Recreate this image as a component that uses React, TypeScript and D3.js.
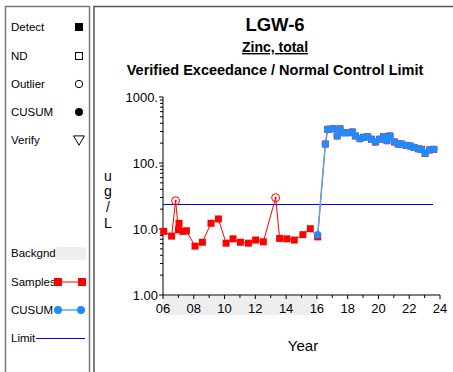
import { line, scaleLinear, scaleLog, symbol, symbolTriangle } from "d3"

// sample dates (decimal year) and concentrations, ug/L
const sampleYears = [
  6.05, 6.56, 6.82, 7.0, 7.04, 7.3, 7.52, 8.08, 8.56, 9.12, 9.6, 10.1, 10.55, 11.03, 11.55, 12.02, 12.52,
  13.32, 13.58, 14.05, 14.53, 15.09, 15.57, 16.05,
  16.55, 16.7, 17.04, 17.32, 17.5, 17.7, 18.0, 18.3, 18.5, 18.8, 19.03, 19.3, 19.55, 19.8, 20.07, 20.33,
  20.55, 20.75, 21.05, 21.28, 21.5, 21.8, 22.06, 22.32, 22.6, 22.8, 23.03, 23.33, 23.6,
]
const sampleValues = [
  9.2, 7.8, 26.8, 9.7, 12.2, 9.2, 9.4, 5.5, 6.3, 12.2, 14.2, 6.1, 7.1, 6.3, 6.1, 6.8, 6.4,
  29.8, 7.2, 7.1, 6.8, 8.2, 10.1, 7.6,
  194, 324, 330, 257, 330, 288, 288, 295, 257, 234, 245, 250, 229, 208, 229, 250,
  218, 257, 208, 194, 194, 185, 181, 172, 164, 161, 140, 158, 161,
]
const outlierYears = [6.82, 13.32]

const cusumYears = [
  16.05, 16.55, 16.7, 17.04, 17.32, 17.5, 17.7, 18.0, 18.3, 18.5, 18.8, 19.03, 19.3, 19.55, 19.8, 20.07, 20.33,
  20.55, 20.75, 21.05, 21.28, 21.5, 21.8, 22.06, 22.32, 22.6, 22.8, 23.03, 23.33, 23.6,
]
const cusumValues = [
  8.2, 194, 324, 330, 257, 330, 288, 288, 295, 257, 234, 245, 250, 229, 208, 229, 250,
  218, 257, 208, 194, 194, 185, 181, 172, 164, 161, 140, 158, 161,
]

const limitValue = 24
const backgroundRange = [6, 16]
const yTickValues = [1, 10, 100, 1000]
const yTickLabels = ["1.00", "10.0", "100.", "1000."]
const xTickValues = [6, 8, 10, 12, 14, 16, 18, 20, 22, 24]
const xTickLabels = ["06", "08", "10", "12", "14", "16", "18", "20", "22", "24"]

const RED = "#ff0000"
const BLUE = "#1e8cff"
const BLUE_LINE = "#5aa6ee"
const LIMIT = "#0000ff"
const FONT = "'Liberation Sans', Arial, sans-serif"

export default function App() {
  const x = scaleLinear().domain([6, 24]).range([163, 440])
  const y = scaleLog().domain([1, 1000]).range([295, 97])

  const samplePts = sampleYears.map((yr, i) => ({ yr, v: sampleValues[i] }))
  const cusumPts = cusumYears.map((yr, i) => ({ yr, v: cusumValues[i] }))
  const path = line<{ yr: number; v: number }>()
    .x((d) => x(d.yr))
    .y((d) => y(d.v))

  const minorY: number[] = []
  for (let p = 1; p < 1000; p *= 10) for (let k = 2; k <= 9; k++) minorY.push(p * k)
  const allYears = Array.from({ length: 19 }, (_, i) => 6 + i)

  const tri = symbol().type(symbolTriangle).size(50)()
  const limitY = Math.round(y(limitValue)) + 0.5

  const legendTop = [
    { label: "Detect", y: 27 },
    { label: "ND", y: 56 },
    { label: "Outlier", y: 84 },
    { label: "CUSUM", y: 112 },
    { label: "Verify", y: 140 },
  ]

  return (
    <svg width={453} height={372} style={{ position: "absolute", left: 0, top: 0, fontFamily: FONT }}>
      <rect width={453} height={372} fill="#fff" />
      {/* legend panel */}
      <rect x={5.5} y={6.5} width={84} height={380} fill="none" stroke="#7a7a7a" strokeWidth={1.5} />
      <rect x={94} y={6.5} width={370} height={380} fill="none" stroke="#555" strokeWidth={1.5} />

      {legendTop.map((d) => (
        <text key={d.label} x={11} y={d.y + 4} fontSize={11.5}>{d.label}</text>
      ))}
      <rect x={75} y={23} width={8} height={8} fill="#000" />
      <rect x={75.5} y={52.5} width={7} height={7} fill="none" stroke="#000" />
      <circle cx={79} cy={84} r={3.7} fill="none" stroke="#000" />
      <circle cx={79} cy={112} r={4} fill="#000" />
      <path d={tri} transform="translate(79,139) rotate(180)" fill="none" stroke="#000" />

      <text x={11} y={257} fontSize={11.5}>Backgnd</text>
      <rect x={56} y={247} width={30} height={13} fill="#eeeeee" />
      <text x={11} y={286} fontSize={11.5}>Samples</text>
      <line x1={58} x2={82} y1={282} y2={282} stroke={RED} />
      <rect x={54} y={278} width={8} height={8} fill={RED} />
      <rect x={78} y={278} width={8} height={8} fill={RED} />
      <text x={11} y={314} fontSize={11.5}>CUSUM</text>
      <line x1={58} x2={81} y1={310} y2={310} stroke={BLUE_LINE} strokeWidth={1.5} />
      <circle cx={58} cy={310} r={4} fill={BLUE} />
      <circle cx={81} cy={310} r={4} fill={BLUE} />
      <text x={11} y={342} fontSize={11.5}>Limit</text>
      <line x1={36} x2={85} y1={338.5} y2={338.5} stroke={LIMIT} />

      {/* titles */}
      <text x={275} y={31} textAnchor="middle" fontSize={18.5} fontWeight="bold">LGW-6</text>
      <text x={275} y={52} textAnchor="middle" fontSize={14} fontWeight="bold" textDecoration="underline">Zinc, total</text>
      <text x={275} y={75} textAnchor="middle" fontSize={14.5} fontWeight="bold">Verified Exceedance / Normal Control Limit</text>

      {/* background period band */}
      <rect x={x(backgroundRange[0])} y={296} width={x(backgroundRange[1]) - x(backgroundRange[0])} height={19} fill="#eeeeee" />

      {/* axes */}
      <line x1={x(6)} x2={x(6)} y1={y(1000)} y2={y(1)} stroke="#000" />
      <line x1={x(6)} x2={x(24)} y1={y(1)} y2={y(1)} stroke="#000" />
      {minorY.map((v) => (
        <line key={v} x1={x(6) - 3} x2={x(6)} y1={y(v)} y2={y(v)} stroke="#000" />
      ))}
      {yTickValues.map((v, i) => (
        <g key={v}>
          <line x1={x(6) - 4} x2={x(6)} y1={y(v)} y2={y(v)} stroke="#000" />
          <text x={x(6) - 5} y={y(v)} dy="0.35em" textAnchor="end" fontSize={13}>{yTickLabels[i]}</text>
        </g>
      ))}
      {allYears.map((yr) => (
        <line key={yr} x1={x(yr)} x2={x(yr)} y1={y(1)} y2={y(1) + (yr % 2 === 0 ? 4 : 3)} stroke="#000" />
      ))}
      {xTickValues.map((v, i) => (
        <text key={v} x={x(v)} y={313} textAnchor="middle" fontSize={13}>{xTickLabels[i]}</text>
      ))}

      <text x={303} y={351} textAnchor="middle" fontSize={15}>Year</text>
      {["u", "g", "/", "L"].map((c, i) => (
        <text key={i} x={108} y={[181, 196, 212, 228][i]} textAnchor="middle" fontSize={14}>{c}</text>
      ))}

      {/* limit */}
      <line x1={x(6)} x2={433} y1={limitY} y2={limitY} stroke={LIMIT} strokeWidth={1} />

      {/* samples */}
      <path d={path(samplePts) ?? ""} fill="none" stroke={RED} strokeWidth={1} />
      {samplePts.map((d, i) =>
        outlierYears.includes(d.yr) ? (
          <g key={i}>
            <circle cx={x(d.yr)} cy={y(d.v)} r={4} fill="none" stroke={RED} strokeWidth={1} />
            <circle cx={x(d.yr)} cy={y(d.v)} r={1} fill={RED} />
          </g>
        ) : (
          <rect key={i} x={x(d.yr) - 3.5} y={y(d.v) - 3.5} width={7} height={7} fill={RED} />
        )
      )}

      {/* CUSUM */}
      <path d={path(cusumPts) ?? ""} fill="none" stroke={BLUE_LINE} strokeWidth={1.5} />
      {cusumPts.map((d, i) => (
        <circle key={i} cx={x(d.yr)} cy={y(d.v)} r={3.7} fill={BLUE} />
      ))}
    </svg>
  )
}
